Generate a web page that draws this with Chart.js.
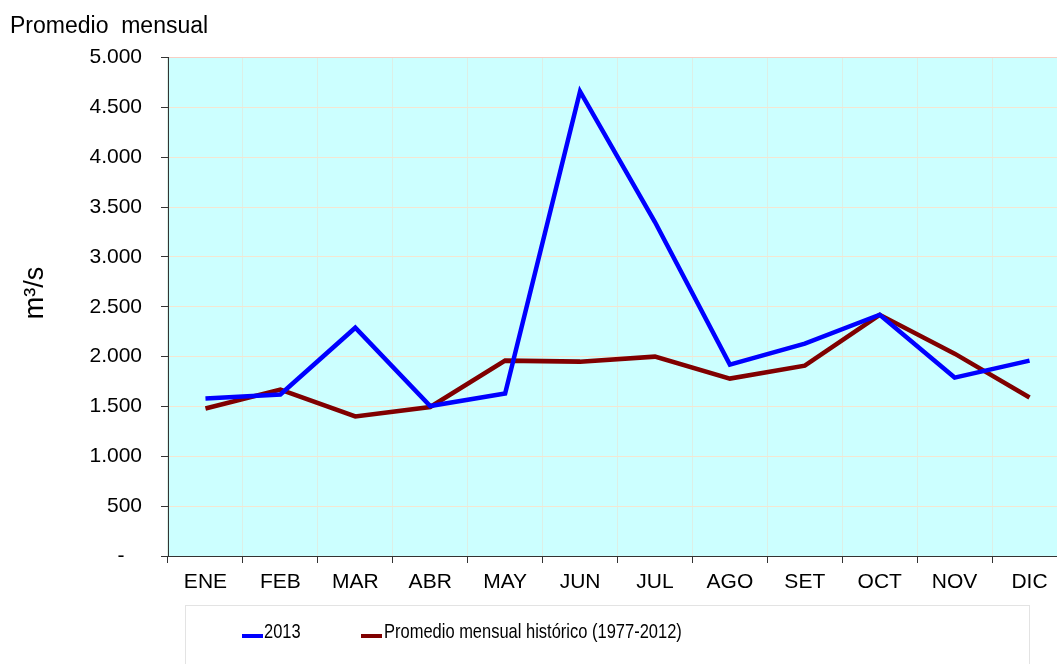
<!DOCTYPE html>
<html lang="es">
<head>
<meta charset="UTF-8">
<title>Promedio mensual</title>
<script src="https://cdn.jsdelivr.net/npm/chart.js"></script>
<style>
    body { margin: 0; overflow: hidden; background: #fff; font-family: "Liberation Sans", Arial, sans-serif; }
    #wrap { position: relative; width: 1067px; height: 664px; }
    #legend { position: absolute; left: 185px; top: 605px; width: 845px; height: 70px; border: 1px solid #e3e3e3; box-sizing: border-box; }
    .item { position: absolute; top: 14px; font: 21px/21px "Liberation Sans", Arial, sans-serif; color: #000; white-space: nowrap; transform: scaleX(0.785); transform-origin: 0 0; }
    .swatch { position: absolute; top: 28px; width: 21px; height: 4px; }
</style>
</head>
<body>
<div id="wrap">
    <canvas id="chart" width="1067" height="664"></canvas>
    <div id="legend">
        <div class="swatch" style="left:56px;background:#0000ff"></div>
        <div class="item" style="left:78px">2013</div>
        <div class="swatch" style="left:175px;background:#800000"></div>
        <div class="item" style="left:198px">Promedio mensual histórico (1977-2012)</div>
    </div>
</div>
<script>
    // monthly values, m3/s
    const months = ['ENE', 'FEB', 'MAR', 'ABR', 'MAY', 'JUN', 'JUL', 'AGO', 'SET', 'OCT', 'NOV', 'DIC'];
    const serie2013 = [1580, 1620, 2290, 1505, 1630, 4660, 3350, 1920, 2130, 2420, 1790, 1960];
    const historico = [1480, 1670, 1400, 1495, 1960, 1950, 2000, 1780, 1910, 2420, 2030, 1590];

    function fmt(v) {
        if (v === 0) return '-   ';
        return String(v).replace(/\B(?=(\d{3})+(?!\d))/g, '.');
    }

    const areaBg = {
        id: 'areaBg',
        beforeDraw(chart) {
            const a = chart.chartArea;
            const ctx = chart.ctx;
            ctx.save();
            ctx.fillStyle = '#ccffff';
            ctx.fillRect(a.left, a.top, a.right - a.left, a.bottom - a.top);
            ctx.restore();
        }
    };

    // y axis title sits a bit above the centre of the axis
    const yTitle = {
        id: 'yTitle',
        afterDraw(chart) {
            const ctx = chart.ctx;
            ctx.save();
            ctx.translate(36, 293);
            ctx.rotate(-Math.PI / 2);
            ctx.font = '27px "Liberation Sans", Arial, sans-serif';
            ctx.fillStyle = '#000';
            ctx.textAlign = 'center';
            ctx.textBaseline = 'middle';
            ctx.fillText('m³/s', 0, 0);
            ctx.restore();
        }
    };

    new Chart(document.getElementById('chart'), {
        type: 'line',
        data: {
            labels: months,
            datasets: [{
                label: '2013',
                data: serie2013,
                borderColor: '#0000ff',
                backgroundColor: '#0000ff',
                borderWidth: 4.5,
                pointRadius: 0,
                tension: 0
            }, {
                label: 'Promedio mensual histórico (1977-2012)',
                data: historico,
                borderColor: '#800000',
                backgroundColor: '#800000',
                borderWidth: 4.5,
                pointRadius: 0,
                tension: 0
            }]
        },
        options: {
            responsive: false,
            animation: false,
            layout: { padding: { left: 10, right: 0, top: 0, bottom: 0 } },
            plugins: {
                legend: { display: false },
                tooltip: { enabled: false },
                title: {
                    display: true,
                    text: 'Promedio  mensual',
                    align: 'start',
                    color: '#000',
                    font: { family: '"Liberation Sans", Arial, sans-serif', size: 23, weight: 'normal' },
                    padding: { top: 13, bottom: 17 }
                }
            },
            scales: {
                x: {
                    offset: true,
                    afterFit(scale) { scale.height = 108; },
                    grid: {
                        offset: true,
                        color: '#dcefe6',
                        tickColor: '#333',
                        tickLength: 7
                    },
                    border: { color: '#333', width: 1 },
                    ticks: {
                        color: '#000',
                        padding: 7,
                        font: { family: '"Liberation Sans", Arial, sans-serif', size: 21 }
                    }
                },
                y: {
                    min: 0,
                    max: 5000,
                    afterFit(scale) { scale.width = 158; },
                    grid: {
                        color: ctx => ctx.tick && ctx.tick.value === 5000 ? '#f7cfc4' : '#f4e6d2',
                        tickColor: '#333',
                        tickLength: 7
                    },
                    border: { color: '#333', width: 1 },
                    ticks: {
                        stepSize: 500,
                        color: '#000',
                        padding: 19,
                        font: { family: '"Liberation Sans", Arial, sans-serif', size: 21 },
                        callback: v => fmt(v)
                    }
                }
            }
        },
        plugins: [areaBg, yTitle]
    });
</script>
</body>
</html>
